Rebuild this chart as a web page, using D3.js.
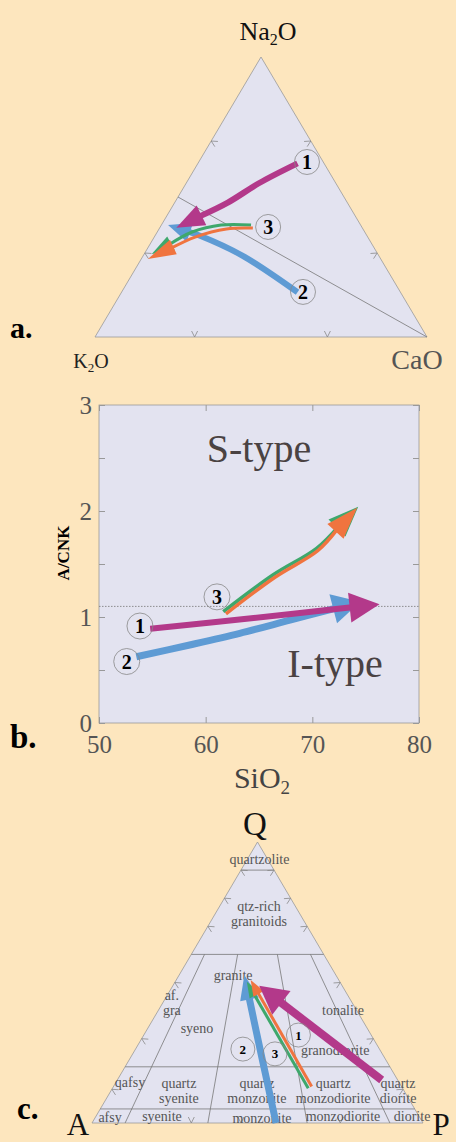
<!DOCTYPE html>
<html>
<head>
<meta charset="utf-8">
<script src="https://cdn.jsdelivr.net/npm/d3@7"></script>
<style>
  body { margin: 0; background: #fde6be; }
  svg { display: block; }
  text { font-family: "Liberation Serif", "DejaVu Serif", serif; }
</style>
</head>
<body>
<div id="chart"></div>
<script>
// ---------- panel a: Na2O - K2O - CaO, values [Na2O, K2O, CaO] in % ----------
const trendA1 = [[62, 8, 30], [55, 23, 22], [48, 36, 16], [39, 56, 5]];
const trendA2 = [[16, 31, 53], [29, 41, 30], [36, 50, 14], [40, 58, 2]];
const trendA3green = [[40, 33, 27], [40, 42, 18], [37.5, 52, 10.5], [29.6, 68.1, 2.3]];
const trendA3orange = [[38.9, 33, 28.1], [38.6, 41.1, 20.3], [35.7, 52, 12.3], [27.9, 70.1, 2]];
const dividerA = [[50, 50, 0], [0, 0, 100]];
const markersA = [[62.5, 4.9, 32.6], [16.1, 29.3, 54.6], [39.3, 28.2, 32.5]];
const edgeTicksA = [30, 70];

// ---------- panel b: SiO2 vs A/CNK ----------
const xTicksB = [50, 60, 70, 80];
const yTicksB = [0, 1, 2, 3];
const yMinorB = [0.5, 1.5, 2.5];
const boundaryB = 1.1;
const trendB1 = [[54.8, 0.89], [64.5, 0.99], [76.3, 1.12]];
const trendB2 = [[53.5, 0.625], [58.5, 0.736], [63.2, 0.846], [67.9, 0.97], [74.5, 1.144]];
const trendB3green = [[61.65, 1.05], [66.3, 1.396], [70.4, 1.648], [74.3, 2.04]];
const trendB3orange = [[61.9, 1.03], [66.5, 1.375], [70.5, 1.625], [74.2, 2.03]];
const markersB = [[53.84, 0.915], [52.6, 0.58], [61.06, 1.19]];

// ---------- panel c: QAP, values [Q %, P/(A+P) %] ----------
const qLevels = [5, 20, 60, 90];
const ratioLevels = [10, 35, 65, 90];
const trendC1 = [[15.3, 94.3], [48.8, 51]];
const trendC2 = [[0, 55.6], [15.3, 53.3], [32, 49.6], [52.7, 41.6]];
const trendC3green = [[12.4, 67.5], [50.3, 43.5]];
const trendC3orange = [[13, 68.8], [50.9, 45.8]];
const markersC = [[31.3, 68], [26.3, 44], [24.6, 57]];
const fieldNames = ["quartzolite", "qtz-rich\ngranitoids", "granite", "af.\ngra", "syeno",
  "tonalite", "granodiorite", "qafsy", "quartz\nsyenite", "quartz\nmonzonite",
  "quartz\nmonzodiorite", "quartz\ndiorite", "afsy", "syenite", "monzonite",
  "monzodiorite", "diorite"];
const fieldPos = [[94, 60], [74.6, 51.7], [52.7, 34.4], [43, 4.6], [33.8, 22.4],
  [40.2, 93.2], [26, 81.7], [14.6, 4.9], [11.7, 23.1], [11.7, 49.8],
  [11.7, 75.9], [11.7, 98.1], [2.1, 4.5], [2.5, 20.4], [1.8, 51.4],
  [2.5, 76.5], [2.5, 97.9]];
const edgeTicksC = [12, 30, 50, 70, 80, 90];

const colors = { one: "#b3398a", two: "#5e9bd4", green: "#3ea86c", orange: "#f0743f" };

document.addEventListener('DOMContentLoaded', function() {
    const width = 456;
    const height = 1142;
    const plotFill = "#e3e3f0";

    const svg = d3.select("#chart")
        .append("svg")
        .attr("width", width)
        .attr("height", height);

    svg.append("rect").attr("width", width).attr("height", height).attr("fill", "#fde6be");

    // arrow with triangular head at the last point
    function drawArrow(g, pts, color, lw, headLen, headW) {
        const n = pts.length;
        const tip = pts[n - 1], prev = pts[n - 2];
        const dx = tip[0] - prev[0], dy = tip[1] - prev[1];
        const len = Math.hypot(dx, dy);
        const ux = dx / len, uy = dy / len;
        const bx = tip[0] - ux * headLen, by = tip[1] - uy * headLen;
        const linePts = pts.slice(0, n - 1).concat([[bx + ux * 2, by + uy * 2]]);
        g.append("path")
            .attr("d", d3.line().curve(d3.curveCatmullRom)(linePts))
            .attr("fill", "none")
            .attr("stroke", color)
            .attr("stroke-width", lw);
        const px = -uy, py = ux;
        g.append("path")
            .attr("d", `M${tip[0]},${tip[1]}L${bx + px * headW / 2},${by + py * headW / 2}L${bx - px * headW / 2},${by - py * headW / 2}Z`)
            .attr("fill", color);
    }

    function drawMarker(g, p, label, r, size) {
        g.append("circle")
            .attr("cx", p[0]).attr("cy", p[1]).attr("r", r)
            .attr("fill", "none").attr("stroke", "#888").attr("stroke-width", 0.8);
        g.append("text")
            .attr("x", p[0]).attr("y", p[1]).attr("dy", "0.35em")
            .attr("text-anchor", "middle")
            .style("font-size", size + "px").style("font-weight", "bold")
            .text(label);
    }

    // small V-shaped ticks along a triangle edge, pointing inward
    function edgeTicks(g, p0, p1, centre, fracs) {
        fracs.forEach(f => {
            const x = p0[0] + (p1[0] - p0[0]) * f / 100;
            const y = p0[1] + (p1[1] - p0[1]) * f / 100;
            let tx = p1[0] - p0[0], ty = p1[1] - p0[1];
            const tl = Math.hypot(tx, ty); tx /= tl; ty /= tl;
            let nx = -ty, ny = tx;
            if ((centre[0] - x) * nx + (centre[1] - y) * ny < 0) { nx = -nx; ny = -ny; }
            g.append("path")
                .attr("d", `M${x + nx * 6 + tx * 3},${y + ny * 6 + ty * 3}L${x},${y}L${x + nx * 6 - tx * 3},${y + ny * 6 - ty * 3}`)
                .attr("fill", "none").attr("stroke", "#888").attr("stroke-width", 0.8);
        });
    }

    // ================= panel a =================
    const gA = svg.append("g");
    const xA = d3.scaleLinear().domain([0, 1]).range([95, 427]);
    const yA = d3.scaleLinear().domain([0, 1]).range([337, 57]);
    const ternA = d => {
        const s = d[0] + d[1] + d[2];
        const na = d[0] / s, ca = d[2] / s;
        return [xA(ca + na / 2), yA(na)];
    };
    const triA = [[100, 0, 0], [0, 100, 0], [0, 0, 100]].map(ternA);
    gA.append("path")
        .attr("d", d3.line()(triA) + "Z")
        .attr("fill", plotFill).attr("stroke", "#999").attr("stroke-width", 0.8);
    const cA = [(triA[0][0] + triA[1][0] + triA[2][0]) / 3, (triA[0][1] + triA[1][1] + triA[2][1]) / 3];
    edgeTicks(gA, triA[1], triA[0], cA, edgeTicksA);
    edgeTicks(gA, triA[2], triA[0], cA, edgeTicksA);
    edgeTicks(gA, triA[1], triA[2], cA, edgeTicksA);
    gA.append("path")
        .attr("d", d3.line()(dividerA.map(ternA)))
        .attr("stroke", "#777").attr("stroke-width", 0.8).attr("fill", "none");

    drawArrow(gA, trendA2.map(ternA), colors.two, 6, 23, 20);
    drawArrow(gA, trendA1.map(ternA), colors.one, 6, 28, 22);
    drawArrow(gA, trendA3green.map(ternA), colors.green, 3, 22, 16);
    drawArrow(gA, trendA3orange.map(ternA), colors.orange, 3, 28, 16);
    markersA.forEach((m, i) => drawMarker(gA, ternA(m), i + 1, 12.5, 20));

    const na = gA.append("text").attr("x", 268).attr("y", 40).attr("text-anchor", "middle")
        .style("font-size", "26px").attr("fill", "#111");
    na.append("tspan").text("Na");
    na.append("tspan").attr("dy", 5).style("font-size", "16px").text("2");
    na.append("tspan").attr("dy", -5).text("O");
    const k2o = gA.append("text").attr("x", 91).attr("y", 368).attr("text-anchor", "middle")
        .style("font-size", "20px").attr("fill", "#222");
    k2o.append("tspan").text("K");
    k2o.append("tspan").attr("dy", 4).style("font-size", "13px").text("2");
    k2o.append("tspan").attr("dy", -4).text("O");
    gA.append("text").attr("x", 417).attr("y", 369).attr("text-anchor", "middle")
        .style("font-size", "28px").attr("fill", "#555").text("CaO");
    gA.append("text").attr("x", 10).attr("y", 338)
        .style("font-size", "30px").style("font-weight", "bold").text("a.");

    // ================= panel b =================
    const gB = svg.append("g");
    const xB = d3.scaleLinear().domain([50, 80]).range([99, 419]);
    const yB = d3.scaleLinear().domain([0, 3]).range([723, 405]);

    gB.append("rect")
        .attr("x", xB(50)).attr("y", yB(3))
        .attr("width", xB(80) - xB(50)).attr("height", yB(0) - yB(3))
        .attr("fill", plotFill).attr("stroke", "#999").attr("stroke-width", 0.8);

    const yAxis = gB.append("g").attr("transform", `translate(${xB(50)},0)`)
        .call(d3.axisLeft(yB).tickValues(yTicksB.concat(yMinorB)).tickSize(-6).tickPadding(7)
            .tickFormat(d => Number.isInteger(d) ? d : ""));
    const yAxisR = gB.append("g").attr("transform", `translate(${xB(80)},0)`)
        .call(d3.axisRight(yB).tickValues(yTicksB.concat(yMinorB)).tickSize(-6).tickFormat(""));
    const xAxis = gB.append("g").attr("transform", `translate(0,${yB(0)})`)
        .call(d3.axisBottom(xB).tickValues(xTicksB).tickSize(-6).tickPadding(12));
    const xAxisT = gB.append("g").attr("transform", `translate(0,${yB(3)})`)
        .call(d3.axisTop(xB).tickValues(xTicksB).tickSize(-6).tickFormat(""));
    [yAxis, yAxisR, xAxis, xAxisT].forEach(ax => {
        ax.select(".domain").remove();
        ax.selectAll("line").attr("stroke", "#999");
        ax.selectAll("text")
            .style("font-family", '"Liberation Serif", serif')
            .style("font-size", "25px")
            .attr("fill", "#555");
    });

    gB.append("line")
        .attr("x1", xB(50)).attr("x2", xB(80))
        .attr("y1", yB(boundaryB)).attr("y2", yB(boundaryB))
        .attr("stroke", "#777").attr("stroke-width", 0.8).attr("stroke-dasharray", "1.5,1.5");

    gB.append("text").attr("x", 259).attr("y", 462).attr("text-anchor", "middle")
        .style("font-size", "40px").attr("fill", "#4a4242").text("S-type");
    gB.append("text").attr("x", 335).attr("y", 677).attr("text-anchor", "middle")
        .style("font-size", "40px").attr("fill", "#4a4242").text("I-type");

    const ptB = d => [xB(d[0]), yB(d[1])];
    drawArrow(gB, trendB2.map(ptB), colors.two, 7, 28, 30);
    drawArrow(gB, trendB1.map(ptB), colors.one, 6, 30, 30);
    drawArrow(gB, trendB3green.map(ptB), colors.green, 3.5, 30, 24);
    drawArrow(gB, trendB3orange.map(ptB), colors.orange, 3.5, 32, 22);
    markersB.forEach((m, i) => drawMarker(gB, ptB(m), i + 1, 13, 20));

    gB.append("text")
        .attr("transform", "translate(69,553) rotate(-90)")
        .attr("text-anchor", "middle")
        .style("font-size", "17px").style("font-weight", "bold")
        .text("A/CNK");
    const si = gB.append("text").attr("x", 262).attr("y", 788).attr("text-anchor", "middle")
        .style("font-size", "30px").attr("fill", "#444");
    si.append("tspan").text("SiO");
    si.append("tspan").attr("dy", 6).style("font-size", "19px").text("2");
    gB.append("text").attr("x", 10).attr("y", 748)
        .style("font-size", "33px").style("font-weight", "bold").text("b.");

    // ================= panel c =================
    const gC = svg.append("g");
    const xC = d3.scaleLinear().domain([0, 1]).range([92, 423]);
    const yC = d3.scaleLinear().domain([0, 1]).range([1123, 842]);
    const qap = d => {
        const q = d[0] / 100, r = d[1] / 100;
        return [xC((1 - q) * r + q / 2), yC(q)];
    };
    const triC = [[100, 50], [0, 0], [0, 100]].map(qap);
    gC.append("path")
        .attr("d", d3.line()(triC) + "Z")
        .attr("fill", plotFill).attr("stroke", "#999").attr("stroke-width", 0.8);

    const fieldLine = d3.line();
    qLevels.forEach(q => {
        gC.append("path").attr("d", fieldLine([qap([q, 0]), qap([q, 100])]))
            .attr("stroke", "#777").attr("stroke-width", 0.8);
    });
    ratioLevels.forEach(r => {
        gC.append("path").attr("d", fieldLine([qap([0, r]), qap([60, r])]))
            .attr("stroke", "#777").attr("stroke-width", 0.8);
    });
    const cC = [(triC[0][0] + triC[1][0] + triC[2][0]) / 3, (triC[0][1] + triC[1][1] + triC[2][1]) / 3];
    edgeTicks(gC, triC[1], triC[0], cC, edgeTicksC);
    edgeTicks(gC, triC[2], triC[0], cC, edgeTicksC);
    edgeTicks(gC, triC[1], triC[2], cC, [30, 45, 75]);

    fieldNames.forEach((name, i) => {
        const p = qap(fieldPos[i]);
        const lines = name.split("\n");
        const t = gC.append("text")
            .attr("text-anchor", "middle")
            .style("font-size", "14px").attr("fill", "#555");
        lines.forEach((ln, j) => {
            t.append("tspan")
                .attr("x", p[0])
                .attr("y", p[1] + (j - (lines.length - 1) / 2) * 15)
                .attr("dy", "0.35em")
                .text(ln);
        });
    });

    drawArrow(gC, trendC2.map(qap), colors.two, 7, 25, 19);
    drawArrow(gC, trendC3green.map(qap), colors.green, 3, 16, 12);
    drawArrow(gC, trendC3orange.map(qap), colors.orange, 3, 16, 12);
    drawArrow(gC, trendC1.map(qap), colors.one, 8, 28, 30);
    markersC.forEach((m, i) => drawMarker(gC, qap(m), i + 1, 12, 13));

    gC.append("text").attr("x", 255).attr("y", 835).attr("text-anchor", "middle")
        .style("font-size", "33px").attr("fill", "#111").text("Q");
    gC.append("text").attr("x", 78).attr("y", 1135).attr("text-anchor", "middle")
        .style("font-size", "31px").attr("fill", "#111").text("A");
    gC.append("text").attr("x", 441).attr("y", 1135).attr("text-anchor", "middle")
        .style("font-size", "31px").attr("fill", "#111").text("P");
    gC.append("text").attr("x", 17).attr("y", 1119)
        .style("font-size", "31px").style("font-weight", "bold").text("c.");
});
</script>
</body>
</html>
